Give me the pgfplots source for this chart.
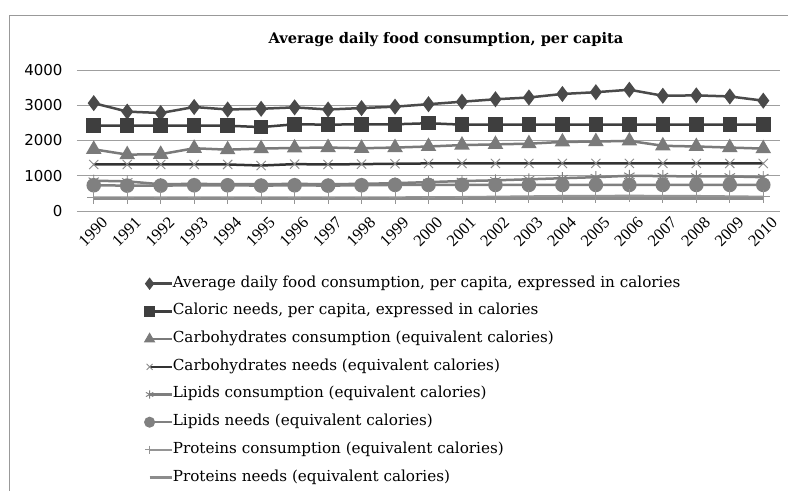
\documentclass[border=0pt]{standalone}
\usepackage{fontspec}
\usepackage{pgfplots}
\usepackage{pgfplotstable}
\pgfplotsset{compat=1.18}
\setmainfont{Liberation Serif}
\newfontfamily\dserif{DejaVu Serif}
\newfontfamily\dsans{DejaVu Sans}
\newcommand\legfont{\dserif\fontsize{15.2bp}{17bp}\selectfont}
\newcommand\titlefont{\dserif\bfseries\fontsize{14.6bp}{16bp}\selectfont}
\newcommand\yfont{\dsans\fontsize{15bp}{17bp}\selectfont}
\newcommand\xfont{\rmfamily\fontsize{16.5bp}{19bp}\selectfont}
\definecolor{cavg}{HTML}{4A4A4A}
\definecolor{ccal}{HTML}{3E3E3E}
\definecolor{ccarbc}{HTML}{7A7A7A}
\definecolor{ccarbnl}{HTML}{333333}
\definecolor{ccarbnm}{HTML}{8A8A8A}
\definecolor{clipc}{HTML}{7E7E7E}
\definecolor{clipn}{HTML}{808080}
\definecolor{cprotc}{HTML}{959595}
\definecolor{cprotn}{HTML}{8C8C8C}
\pgfplotstableread{
x avg cal carbc carbn lipc lipn protc protn
0 3060 2420 1750 1320 860 730 380 350
1 2820 2420 1600 1320 840 720 380 350
2 2780 2420 1610 1320 760 720 380 350
3 2950 2420 1780 1320 770 730 380 350
4 2880 2420 1740 1320 760 730 380 350
5 2900 2380 1770 1290 760 720 380 350
6 2940 2460 1790 1330 770 730 380 350
7 2880 2450 1800 1320 760 720 380 350
8 2920 2460 1780 1330 770 730 380 350
9 2960 2460 1800 1340 790 740 380 350
10 3030 2490 1830 1350 820 740 390 350
11 3100 2450 1870 1350 850 740 390 350
12 3170 2450 1890 1350 870 740 400 350
13 3220 2450 1910 1350 900 740 410 350
14 3320 2450 1960 1350 930 740 420 350
15 3370 2450 1970 1350 960 740 420 350
16 3440 2450 1990 1350 1000 740 430 350
17 3270 2450 1850 1350 990 740 420 350
18 3280 2450 1830 1350 980 740 420 350
19 3250 2450 1800 1350 980 740 410 350
20 3130 2450 1770 1350 960 740 400 350
}\datatable
\begin{document}
\begin{tikzpicture}
\useasboundingbox (0,0) rectangle (788bp,-491bp);
\fill[white] (0,0) rectangle (788bp,-491bp);
\draw[gray!80, line width=0.8bp] (9bp,-491bp) -- (9bp,-15bp) -- (788bp,-15bp);
\node[font=\titlefont] at (446bp,-40bp) {Average daily food consumption, per capita};
\begin{axis}[
  at={(77bp,-211bp)}, anchor=south west,
  scale only axis, width=703bp, height=141bp,
  xmin=-0.5, xmax=20.5, ymin=0, ymax=4000,
  ytick={0,1000,2000,3000,4000},
  xtick={0,...,20},
  xticklabels={1990,1991,1992,1993,1994,1995,1996,1997,1998,1999,2000,2001,2002,2003,2004,2005,2006,2007,2008,2009,2010},
  xticklabel style={font=\xfont, rotate=45, anchor=north east, xshift=2bp, yshift=-8bp, inner sep=0.5bp},
  yticklabel style={font=\yfont, xshift=-11bp},
  /pgf/number format/assume math mode=true,
  /pgf/number format/1000 sep={},
  major tick length=0pt,
  axis line style={draw=none},
  ymajorgrids, grid style={gray!75, line width=0.8bp},
  clip=false,
  legend style={at={(axis description cs:0.097,-0.468)}, anchor=north west, draw=none, fill=none,
    font=\legfont, inner sep=0pt, row sep=14.7bp,
    nodes={inner sep=0pt, text height=10bp, text depth=3bp},
    /tikz/every even column/.append style={column sep=1bp}},
  legend cell align=left,
  legend image code/.code={\draw[mark repeat=2, mark phase=1, #1, mark size=4.2bp] plot coordinates {(0bp,0bp) (22bp,0bp)};},
  every axis plot/.append style={line width=2.5bp},
]
\addplot[color=cavg, mark=diamond*, mark size=6bp, mark options={solid}] table[x=x,y=avg]{\datatable};
\addlegendentry{Average daily food consumption, per capita, expressed in calories}
\addplot[color=ccal, mark=square*, mark size=6bp] table[x=x,y=cal]{\datatable};
\addlegendentry{Caloric needs, per capita, expressed in calories}
\addplot[color=ccarbc, mark=triangle*, mark size=6.5bp] table[x=x,y=carbc]{\datatable};
\addlegendentry{Carbohydrates consumption (equivalent calories)}
\addplot[color=ccarbnl, mark=x, mark size=6.5bp, mark options={draw=ccarbnm, line width=0.9bp}] table[x=x,y=carbn]{\datatable};
\addlegendentry{Carbohydrates needs (equivalent calories)}
\addplot[color=clipc, mark=asterisk, mark size=6bp, mark options={line width=0.9bp}] table[x=x,y=lipc]{\datatable};
\addlegendentry{Lipids consumption (equivalent calories)}
\addplot[color=clipn, mark=*, mark size=6bp] table[x=x,y=lipn]{\datatable};
\addlegendentry{Lipids needs (equivalent calories)}
\addplot[color=cprotc, mark=+, mark size=6.5bp, mark options={line width=0.9bp}] table[x=x,y=protc]{\datatable};
\addlegendentry{Proteins consumption (equivalent calories)}
\addplot[color=cprotn, no marks] table[x=x,y=protn]{\datatable};
\addlegendentry{Proteins needs (equivalent calories)}
\end{axis}
\end{tikzpicture}
\end{document}
